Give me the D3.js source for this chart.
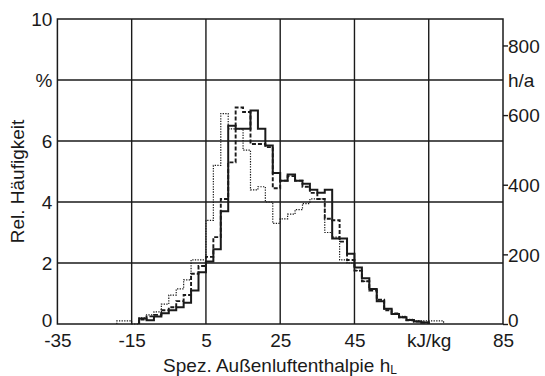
<!DOCTYPE html>
<html><head><meta charset="utf-8">
<script src="https://cdn.jsdelivr.net/npm/d3@7"></script>
<style>
html,body{margin:0;padding:0;background:#fff;}
svg text{font-family:"Liberation Sans",Arial,sans-serif;fill:#1a1a1a;}
</style></head>
<body><svg id="c" width="545" height="376"></svg>
<script>
// bin left edges (kJ/kg), bin width 2
const binLeft = [-19,-17,-15,-13,-11,-9,-7,-5,-3,-1,1,3,5,7,9,11,13,15,17,19,21,23,25,27,29,31,33,35,37,39,41,43,45,47,49,51,53,55,57,59,61,63,65,67];
const binWidth = 2;
// relative frequency in %
const dottedSeries = [0.1,0.1,0,0.2,0.3,0.4,0.65,0.95,1.15,1.45,2.1,2.1,3.4,5.2,6.9,6.4,6.4,5.7,4.4,4.5,4.0,3.3,3.45,3.6,3.75,3.95,4.1,4.1,3.0,2.85,2.1,2.0,1.75,1.4,1.15,0.75,0.5,0.33,0.25,0.15,0.1,0.1,0.1,0.1];
const dashedSeries = [0,0,0,0.15,0.25,0.3,0.45,0.55,0.75,0.95,1.65,1.9,2.2,2.85,4.1,5.3,7.1,6.95,5.9,5.9,5.8,4.45,4.7,4.85,4.7,4.5,4.3,4.1,3.45,3.4,2.7,2.1,1.75,1.4,1.1,0.8,0.45,0.35,0.22,0.12,0.08,0.05,0,0];
const solidSeries = [0,0,0,0.18,0.12,0.25,0.35,0.45,0.55,0.7,1.1,1.7,2.05,2.45,3.7,6.5,6.4,6.4,7.0,6.4,5.85,4.95,4.7,4.9,4.7,4.6,4.4,4.3,4.4,2.8,2.8,2.3,1.85,1.5,1.15,0.75,0.5,0.33,0.22,0.13,0.08,0.05,0,0];
const xTicks = [-35,-15,5,25,45,65,85];
const xTickLabels = ["-35","-15","5","25","45","kJ/kg","85"];
const yTicks = [0,2,4,6,8,10];
const yTickLabels = ["0","2","4","6","%","10"];
const rTicks = [0,200,400,600,800];
const hoursPerYear = 8760;

const W=545,H=376;
const L=57.4,R=503,T=19,B=324;
const FS=19;
const svg=d3.select("#c");
const x=d3.scaleLinear().domain([-35,85]).range([L,R]);
const y=d3.scaleLinear().domain([0,10]).range([B,T]);
const yr=d3.scaleLinear().domain([0,hoursPerYear/10]).range([B,T]);
const ink="#1a1a1a";

// grid
const g=svg.append("g");
g.selectAll("line.vx").data(xTicks.slice(1,-1)).join("line")
 .attr("x1",d=>x(d)).attr("x2",d=>x(d)).attr("y1",T).attr("y2",B)
 .attr("stroke",ink).attr("stroke-width",1.4);
g.selectAll("line.hy").data(yTicks.slice(1,-1)).join("line")
 .attr("x1",L).attr("x2",R).attr("y1",d=>y(d)).attr("y2",d=>y(d))
 .attr("stroke",ink).attr("stroke-width",1.4);

// right axis ticks
const rAxis=d3.axisRight(yr).tickValues(rTicks).tickSize(5).tickPadding(3).tickFormat(d3.format("d"));
const ra=svg.append("g").attr("transform",`translate(${R},0)`).call(rAxis);
ra.select(".domain").remove();
ra.selectAll("line").attr("stroke",ink).attr("stroke-width",1.4);
ra.selectAll("text").attr("font-size",FS).attr("fill",ink).attr("dy",d=>d===0?"0.12em":"0.36em").attr("x",5);
svg.append("text").attr("x",R+5).attr("y",y(8)).attr("dy","0.36em").attr("font-size",FS).text("h/a");

// left axis labels
const la=svg.append("g").attr("transform",`translate(${L},0)`)
 .call(d3.axisLeft(y).tickValues(yTicks).tickSize(0).tickPadding(5).tickFormat((d,i)=>yTickLabels[i]));
la.select(".domain").remove();
la.selectAll("text").attr("font-size",FS).attr("fill",ink).attr("dy",d=>d===0?"0.12em":"0.36em");

// bottom axis labels
const xa=svg.append("g").attr("transform",`translate(0,${B})`)
 .call(d3.axisBottom(x).tickValues(xTicks).tickSize(0).tickPadding(10).tickFormat((d,i)=>xTickLabels[i]));
xa.select(".domain").remove();
xa.selectAll("text").attr("font-size",FS).attr("fill",ink);

// step series
function stepPoints(vals){
  const pts=[];
  let first=vals.findIndex(v=>v>0);
  let last=vals.length-1; while(vals[last]===0) last--;
  pts.push([binLeft[first],0]);
  for(let i=first;i<=last;i++){pts.push([binLeft[i],vals[i]]);}
  pts.push([binLeft[last]+binWidth,vals[last]]);
  pts.push([binLeft[last]+binWidth,0]);
  return pts;
}
const line=d3.line().x(d=>x(d[0])).y(d=>y(d[1])).curve(d3.curveStepAfter);
svg.append("path").attr("d",line(stepPoints(dottedSeries))).attr("fill","none")
 .attr("stroke",ink).attr("stroke-width",1.2).attr("stroke-dasharray","1.3,1.3");
svg.append("path").attr("d",line(stepPoints(dashedSeries))).attr("fill","none")
 .attr("stroke",ink).attr("stroke-width",1.9).attr("stroke-dasharray","4,2");
svg.append("path").attr("d",line(stepPoints(solidSeries))).attr("fill","none")
 .attr("stroke",ink).attr("stroke-width",2);

// frame
svg.append("rect").attr("x",L).attr("y",T).attr("width",R-L).attr("height",B-T)
 .attr("fill","none").attr("stroke",ink).attr("stroke-width",1.5);

// titles
svg.append("text").attr("transform",`translate(24,${(T+B)/2+10}) rotate(-90)`)
 .attr("text-anchor","middle").attr("font-size",FS).text("Rel. Häufigkeit");
const xt=svg.append("text").attr("x",280).attr("y",372).attr("text-anchor","middle").attr("font-size",FS);
xt.append("tspan").text("Spez. Außenluftenthalpie h");
xt.append("tspan").attr("font-size",12).attr("dy",2).text("L");
</script></body></html>
